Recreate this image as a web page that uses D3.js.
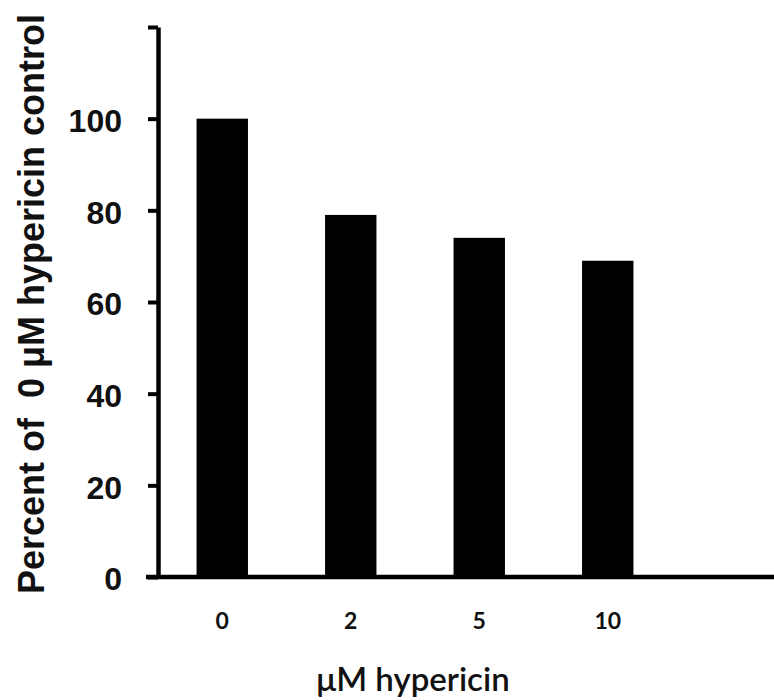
<!DOCTYPE html>
<html>
<head>
<meta charset="utf-8">
<script src="https://cdn.jsdelivr.net/npm/d3@7"></script>
<style>
  body { margin: 0; background: #fff; }
  svg { display: block; }
</style>
</head>
<body>
<div id="chart"></div>
<script>
'use strict';

// Data
const doses = ['0', '2', '5', '10'];
const percents = [100, 79, 74, 69];
const yTicks = [0, 20, 40, 60, 80, 100, 120];
const yTickLabels = ['0', '20', '40', '60', '80', '100', ''];

const width = 774, height = 700;
const margin = {top: 27, right: 102, bottom: 123, left: 158};
const plotBottom = height - margin.bottom;

const svg = d3.select('#chart')
    .append('svg')
    .attr('width', width)
    .attr('height', height);

const xScale = d3.scaleBand()
    .domain(doses)
    .range([margin.left, width - margin.right])
    .paddingInner(0.6)
    .paddingOuter(0.3);

const yScale = d3.scaleLinear()
    .domain([0, 120])
    .range([plotBottom, margin.top]);

// bars
svg.append('g')
    .selectAll('rect')
    .data(percents)
    .join('rect')
        .attr('x', (d, i) => xScale(doses[i]))
        .attr('y', d => yScale(d))
        .attr('width', xScale.bandwidth())
        .attr('height', d => yScale(0) - yScale(d))
        .attr('fill', '#000');

// y axis
const yAxis = svg.append('g')
    .attr('transform', `translate(${margin.left},0)`)
    .call(d3.axisLeft(yScale)
        .tickValues(yTicks)
        .tickFormat((d, i) => yTickLabels[i])
        .tickSize(10)
        .tickSizeOuter(0)
        .tickPadding(26));

yAxis.select('.domain').attr('stroke', '#000').attr('stroke-width', 4.5);
yAxis.selectAll('.tick line').attr('stroke', '#000').attr('stroke-width', 4);
yAxis.selectAll('.tick text')
    .attr('fill', '#111')
    .style('font', 'bold 32px "Liberation Sans", Arial, sans-serif')
    .attr('dy', '0.4em');

// x axis (baseline runs to the right edge)
const xAxis = svg.append('g')
    .attr('transform', `translate(0,${plotBottom})`)
    .call(d3.axisBottom(xScale).tickSize(0).tickPadding(36));

xAxis.select('.domain').remove();
xAxis.append('line')
    .attr('x1', margin.left - 12)
    .attr('x2', width)
    .attr('stroke', '#000')
    .attr('stroke-width', 4.5);
xAxis.selectAll('.tick text')
    .attr('fill', '#111')
    .style('font', 'bold 23px Lato, "Open Sans", sans-serif');

// axis titles
svg.append('text')
    .attr('x', 413)
    .attr('y', 691)
    .attr('text-anchor', 'middle')
    .attr('fill', '#111')
    .style('font', '600 33px Lato, "Open Sans", sans-serif')
    .text('μM hypericin');

svg.append('text')
    .attr('transform', 'translate(44,304) rotate(-90)')
    .attr('text-anchor', 'middle')
    .attr('fill', '#111')
    .style('font', 'bold 36px "Liberation Sans", Arial, sans-serif')
    .style('white-space', 'pre')
    .text('Percent of  0 μM hypericin control');
</script>
</body>
</html>
